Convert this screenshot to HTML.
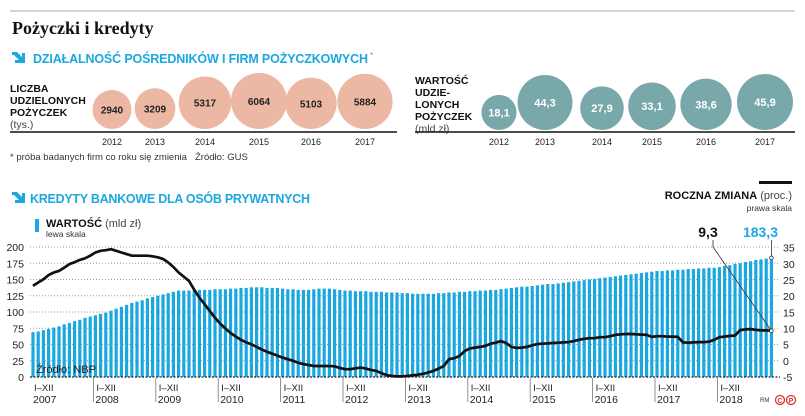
<!DOCTYPE html>
<html><head><meta charset="utf-8"><style>
body{margin:0;background:#fff;}
svg{display:block;font-family:"Liberation Sans",sans-serif;}
</style></head><body>
<svg width="805" height="416" viewBox="0 0 805 416">
<line x1="10" y1="11" x2="795" y2="11" stroke="#aaa" stroke-width="1"/>
<text x="12" y="34" font-family="Liberation Serif,serif" font-weight="bold" font-size="18" fill="#111">Pożyczki i kredyty</text>
<g>
<path d="M12 52 L17 52 L22 57 L22 53 L25 53 L25 63 L15 63 L15 60 L19 60 L14 55 L12 55Z" fill="#1ba7e0"/>
<text x="33" y="63" font-weight="bold" font-size="12.5" fill="#1ba7e0" textLength="335">DZIAŁALNOŚĆ POŚREDNIKÓW I FIRM POŻYCZKOWYCH</text>
<text x="370" y="58" font-size="8" fill="#1ba7e0">*</text>
</g>
<g font-size="10.5" font-weight="bold" fill="#111">
<text x="10" y="92">LICZBA</text><text x="10" y="104">UDZIELONYCH</text><text x="10" y="116">POŻYCZEK</text>
<text x="10" y="128" font-weight="normal" fill="#444">(tys.)</text></g>
<g font-size="10.5" font-weight="bold" fill="#111">
<text x="415" y="84">WARTOŚĆ</text><text x="415" y="96">UDZIE-</text><text x="415" y="108">LONYCH</text><text x="415" y="120">POŻYCZEK</text>
<text x="415" y="132" font-weight="normal" fill="#444">(mld zł)</text></g>
<line x1="10" y1="132" x2="397" y2="132" stroke="#111" stroke-width="1.5"/>
<line x1="415" y1="132" x2="795" y2="132" stroke="#111" stroke-width="1.5"/>
<g id="bubbles"></g>
<text x="10" y="160" font-size="9.5" fill="#333">* próba badanych firm co roku się zmienia</text>
<text x="195" y="160" font-size="9.5" fill="#333">Źródło: GUS</text>
<g>
<path d="M12 192 L17 192 L22 197 L22 193 L25 193 L25 203 L15 203 L15 200 L19 200 L14 195 L12 195Z" fill="#1ba7e0"/>
<text x="30" y="203" font-weight="bold" font-size="12.5" fill="#1ba7e0" textLength="280">KREDYTY BANKOWE DLA OSÓB PRYWATNYCH</text>
</g>
<g>
<rect x="35" y="219" width="4" height="13" fill="#1ba7e0"/>
<text x="46" y="227" font-size="11" fill="#111"><tspan font-weight="bold">WARTOŚĆ</tspan> <tspan fill="#444">(mld zł)</tspan></text>
<text x="46" y="237" font-size="8.5" fill="#333">lewa skala</text></g>
<g>
<rect x="759" y="181" width="33" height="3" fill="#111"/>
<text x="792" y="199" font-size="11" text-anchor="end" fill="#111"><tspan font-weight="bold">ROCZNA ZMIANA</tspan> <tspan fill="#444">(proc.)</tspan></text>
<text x="792" y="211" font-size="8.5" text-anchor="end" fill="#333">prawa skala</text></g>
<g id="chart"></g>
<text x="36" y="373" font-size="11" fill="#222">Źródło: NBP</text>
<text x="760" y="402" font-size="6" fill="#333">RM</text>
<g fill="none" stroke="#e03030" stroke-width="1.3">
<circle cx="780" cy="400" r="4.5"/><circle cx="791" cy="400" r="4.5"/>
<text x="780" y="403" font-size="7" text-anchor="middle" fill="#e03030" stroke="none" font-weight="bold">C</text>
<text x="791" y="403" font-size="7" text-anchor="middle" fill="#e03030" stroke="none" font-weight="bold">P</text></g>
</svg>
<script>
const NS="http://www.w3.org/2000/svg";
const bubbleYears=["2012","2013","2014","2015","2016","2017"];
const loansCount=[2940,3209,5317,6064,5103,5884];
const loansValue=[18.1,44.3,27.9,33.1,38.6,45.9];
const loansValueLabels=["18,1","44,3","27,9","33,1","38,6","45,9"];
const barValues=[69,70,72,74,76,78,81,83,86,88,91,93,
95,97,99,102,105,108,111,114,116,118,121,123,
125,127,129,131,133,133,133,134,134,134,134,135,
135,135,136,136,137,137,138,138,138,137,137,137,
136,135,135,134,134,134,135,136,136,136,135,134,
133,133,132,132,132,131,131,131,130,130,130,129,
129,128,128,128,128,128,129,129,130,130,131,131,
132,132,133,133,134,134,135,136,137,138,139,139,
140,141,142,143,143,144,145,146,147,148,149,150,
151,152,153,154,155,156,157,158,159,160,161,162,
163,163,164,164,165,165,166,166,167,167,168,168,
169,171,172,174,175,177,178,180,181,182,183.3];
const lineValues=[23.2,24.2,25.2,26.5,27.3,27.8,28.8,29.9,30.5,31.2,31.7,32.5,
33.5,34,34.2,34.5,34,33.5,33,32.5,32.5,32.5,32.5,32.3,
32,31.5,30.4,29,27.3,26,24.7,22,19.5,17.5,15.4,13.3,
11.5,10,8.6,7.5,6.5,5.7,5.1,4.3,3.5,2.8,2.2,1.6,
1,0.5,0,-0.6,-1,-1.3,-1.6,-1.6,-1.6,-1.6,-1.7,-2.2,
-2.6,-2.6,-2.3,-2.1,-2.4,-2.8,-3.1,-3.8,-4.4,-4.7,-4.8,-4.8,
-4.7,-4.5,-4.3,-4,-3.6,-3.1,-2.4,-1.6,0.5,0.8,1.5,3,
3.8,4.1,4.3,4.6,5.3,5.6,6.1,5.5,4.3,4,4.1,4.3,
4.8,5.2,5.3,5.4,5.5,5.6,5.7,5.8,6.1,6.5,6.8,7,
7,7.3,7.3,7.6,8,8.2,8.3,8.3,8.2,8.1,8,7.4,
7.6,7.6,7.5,7.5,7.4,5.7,5.6,5.7,5.8,5.8,5.9,6.5,
7.3,7.5,7.7,7.8,9.5,9.7,9.8,9.6,9.4,9.4,9.3];
const leftTicks=[0,25,50,75,100,125,150,175,200];
const rightTicks=[-5,0,5,10,15,20,25,30,35];
const xYears=["2007","2008","2009","2010","2011","2012","2013","2014","2015","2016","2017","2018"];

function mk(tag,attrs,parent,txt){const e=document.createElementNS(NS,tag);for(const k in attrs)e.setAttribute(k,attrs[k]);if(txt!==undefined)e.textContent=txt;parent.appendChild(e);return e;}

const bg=document.getElementById('bubbles');
const lX=[112,155,205,259,311,365], rX=[499,545,602,652,706,765];
loansCount.forEach((v,i)=>{const r=0.36*Math.sqrt(v),cy=129-r;
 const c=mk('circle',{cx:lX[i],cy:cy,r:r,fill:'#ecb8a4'},bg);
 
 
 const t=mk('text',{x:lX[i],y:cy+4,'text-anchor':'middle','font-size':'10','font-weight':'bold',fill:'#222'},bg,String(v));
 
 
 const y=mk('text',{x:lX[i],y:145,'text-anchor':'middle','font-size':'9',fill:'#222'},bg,bubbleYears[i]);
 
 });
loansValue.forEach((v,i)=>{const r=4.13*Math.sqrt(v),cy=130-r;
 const c=mk('circle',{cx:rX[i],cy:cy,r:r,fill:'#79a8ab'},bg);
 
 
 const t=mk('text',{x:rX[i],y:cy+4,'text-anchor':'middle','font-size':'11','font-weight':'bold',fill:'#fff'},bg,loansValueLabels[i]);
 
 
 const y=mk('text',{x:rX[i],y:145,'text-anchor':'middle','font-size':'9',fill:'#222'},bg,bubbleYears[i]);
 
 });

const g=document.getElementById('chart');
const x0=31,mw=5.2,yL=v=>377-v*0.65,yR=v=>377-(v+5)*3.235,xM=i=>x0+i*mw;
leftTicks.forEach(v=>{const y=yL(v);
 if(v>0){const l=mk('line',{x1:30,x2:780,y1:y,y2:y,stroke:'#999','stroke-dasharray':'1 2','stroke-width':1},g);
 
 }
 const t=mk('text',{x:24,y:y+4,'text-anchor':'end','font-size':'10.5',fill:'#222'},g,String(v));
 
 });
rightTicks.forEach(v=>{const t=mk('text',{x:783,y:yR(v)+4,'font-size':'10.5',fill:'#222'},g,String(v));
 
 });
barValues.forEach((v,i)=>{const r=mk('rect',{x:xM(i)+0.4,y:yL(v),width:3.2,height:377-yL(v),fill:'#1ba7e0'},g);
 
 });
const base=mk('line',{x1:30,x2:780,y1:377,y2:377,stroke:'#222','stroke-dasharray':'2 1.5','stroke-width':1.2},g);


xYears.forEach((yr,i)=>{const x=x0+i*12*mw;
 if(i>0){const l=mk('line',{x1:x,x2:x,y1:378,y2:402,stroke:'#777','stroke-width':0.8},g);
 
 }
 const a=mk('text',{x:x+3,y:391,'font-size':'9.5',fill:'#222'},g,'I–XII');
 
 
 const b=mk('text',{x:x+2,y:403,'font-size':'10.5',fill:'#222'},g,yr);
 
 });
const pts=lineValues.map((v,i)=>(xM(i)+2).toFixed(1)+','+yR(v).toFixed(1)).join(' ');
const pl=mk('polyline',{points:pts,fill:'none',stroke:'#111','stroke-width':2.7,'stroke-linejoin':'round'},g);


const n=lineValues.length-1, lx=xM(n)+2, ly=yR(lineValues[n]), bx=xM(barValues.length-1)+2, by=yL(barValues[barValues.length-1]);
const l1=mk('polyline',{points:`713,240 713,247 ${lx},${ly}`,fill:'none',stroke:'#333','stroke-width':0.8},g);


mk('circle',{cx:lx,cy:ly,r:1.8,fill:'#fff',stroke:'#333','stroke-width':0.8},g);
const t1=mk('text',{x:708,y:237,'text-anchor':'middle','font-size':'14','font-weight':'bold',fill:'#111'},g,'9,3');


const l2=mk('line',{x1:bx,x2:bx,y1:240,y2:by,stroke:'#333','stroke-width':0.8},g);


mk('circle',{cx:bx,cy:by,r:1.8,fill:'#fff',stroke:'#333','stroke-width':0.8},g);
const t2=mk('text',{x:778,y:237,'text-anchor':'end','font-size':'14','font-weight':'bold',fill:'#1ba7e0'},g,'183,3');


</script>
</body></html>
